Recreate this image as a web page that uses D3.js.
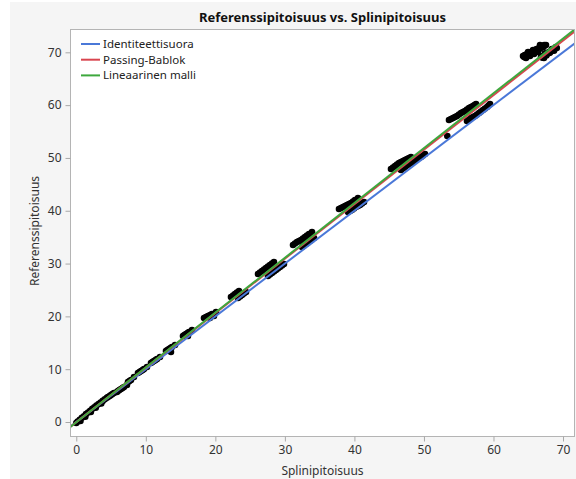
<!DOCTYPE html>
<html>
<head>
<meta charset="utf-8">
<script src="https://cdn.jsdelivr.net/npm/d3@7/dist/d3.min.js"></script>
<style>
  html, body { margin: 0; padding: 0; background: #ffffff; }
  svg { display: block; }
  text { font-family: "Noto Sans", "Open Sans", sans-serif; }
</style>
</head>
<body>
<svg id="chart" width="576" height="479"></svg>
<script>
// Measured concentrations: spline estimate (x) vs reference (y)
const splini = [
  0.0, 0.2, 0.5, 0.8, 1.1, 1.4, 1.7, 2.0, 2.3, 2.6, 2.9, 3.2, 3.5, 3.8, 4.1, 4.4, 0.6, 1.3, 2.1, 2.8, 3.6,
  4.56, 4.99, 5.42, 5.85, 4.80, 5.20,
  6.00, 6.43, 6.86, 7.29, 6.20, 6.65,
  7.44, 7.87, 8.30, 7.65,
  8.87, 9.31, 9.74, 10.17, 9.10, 9.55,
  10.74, 11.17, 11.61, 12.04, 10.95, 11.40,
  12.90, 13.33, 13.76, 14.20, 13.62, 13.10, 13.55,
  15.35, 15.78, 16.21, 16.64, 16.06, 15.55, 16.00,
  18.37, 18.94, 19.52, 20.09, 19.23, 19.80, 18.65, 19.25,
  22.25, 22.82, 23.40, 23.26, 23.83, 24.41, 22.55, 23.10, 23.55, 24.10,
  26.13, 26.71, 27.28, 27.86, 28.43, 27.57, 28.14, 28.72, 29.29, 29.87, 26.42, 27.00, 27.57, 28.15, 27.85, 28.43, 29.00, 29.58,
  31.17, 31.74, 32.32, 32.89, 33.47, 33.90, 32.46, 33.03, 33.61, 34.19, 31.45, 32.03, 32.60, 33.18, 32.75, 33.32, 33.90,
  37.78, 38.36, 38.93, 39.51, 40.08, 40.51, 39.08, 39.65, 40.23, 40.80, 41.38, 38.07, 38.65, 39.22, 39.80, 39.37, 39.94, 40.52, 41.09,
  45.26, 45.84, 46.41, 46.99, 47.56, 48.14, 46.70, 47.27, 47.85, 48.42, 49.00, 49.58, 50.15, 45.55, 46.12, 46.70, 47.27, 47.85, 46.98, 47.56, 48.13, 48.71, 49.29, 49.87,
  53.36,
  53.60, 54.18, 54.75, 55.33, 55.90, 56.48, 57.05, 57.49, 56.19, 56.77, 57.34, 57.92, 58.49, 59.07, 59.50,
  53.89, 54.46, 55.04, 55.61, 56.19, 56.76, 57.27, 56.48, 57.05, 57.63, 58.20, 58.78, 59.29,
  64.25, 64.82, 65.40, 65.97, 66.55, 67.12, 67.55, 64.68, 65.25, 65.83, 66.40, 64.97, 65.69, 66.69,
  64.50, 65.10, 65.60, 66.20, 66.80, 67.30, 64.40, 65.00, 65.50, 66.10, 66.70, 67.20,
  66.83, 67.40, 67.98, 68.55, 68.98, 67.26, 67.12, 67.69, 68.26, 68.77, 67.00, 67.60, 68.10, 68.70, 69.10, 67.40, 68.00, 68.40
];
const referenssi = [
  -0.2, 0.1, 0.4, 0.8, 1.1, 1.5, 1.8, 2.1, 2.5, 2.8, 3.1, 3.4, 3.7, 4.0, 4.3, 4.6, 0.2, 1.0, 1.9, 2.7, 3.5,
  4.73, 5.11, 5.49, 5.68, 4.92, 5.30,
  5.87, 6.25, 6.63, 7.01, 6.06, 6.44,
  7.57, 7.95, 8.52, 7.76,
  9.28, 9.66, 10.04, 10.41, 9.47, 9.85,
  11.17, 11.55, 11.93, 12.31, 11.36, 11.74,
  13.44, 13.82, 14.20, 14.58, 13.26, 13.63, 14.01,
  16.28, 16.66, 17.04, 17.42, 16.28, 16.47, 16.85,
  19.69, 20.07, 20.45, 20.83, 19.69, 20.07, 19.88, 20.26,
  23.67, 24.24, 24.81, 23.48, 24.05, 24.62, 23.95, 24.52, 23.76, 24.33,
  28.02, 28.59, 29.16, 29.73, 30.30, 27.65, 28.21, 28.78, 29.35, 29.92, 28.30, 28.87, 29.45, 30.02, 27.93, 28.50, 29.07, 29.64,
  33.52, 34.08, 34.46, 35.03, 35.60, 35.98, 33.14, 33.71, 34.27, 34.84, 33.80, 34.27, 34.75, 35.32, 33.43, 33.99, 34.56,
  40.33, 40.71, 41.09, 41.47, 42.04, 42.42, 39.77, 40.14, 40.71, 41.09, 41.66, 40.52, 40.90, 41.28, 41.76, 39.96, 40.43, 40.90, 41.38,
  47.91, 48.48, 49.04, 49.42, 49.80, 50.18, 47.72, 48.29, 48.86, 49.23, 49.80, 50.18, 50.75, 48.20, 48.76, 49.23, 49.61, 49.99, 48.01, 48.58, 49.05, 49.52, 49.99, 50.47,
  54.16,
  57.19, 57.57, 57.95, 58.51, 58.89, 59.46, 59.84, 60.22, 57.00, 57.57, 57.95, 58.51, 59.08, 59.65, 60.22,
  57.38, 57.76, 58.23, 58.70, 59.18, 59.65, 60.03, 57.29, 57.76, 58.23, 58.80, 59.37, 59.94,
  69.30, 69.68, 70.06, 70.44, 70.82, 71.20, 71.39, 68.93, 69.30, 69.68, 70.06, 70.06, 70.44, 71.39,
  69.50, 69.90, 70.20, 70.60, 71.00, 71.40, 69.10, 69.50, 69.90, 70.30, 70.70, 71.00,
  69.12, 69.49, 69.87, 70.44, 71.01, 68.93, 69.31, 69.68, 70.16, 70.73, 69.00, 69.40, 69.90, 70.30, 70.80, 69.80, 70.10, 70.60
];

// Fitted lines: [intercept, slope]
const lineNames = ["Identiteettisuora", "Passing-Bablok", "Lineaarinen malli"];
const lineIntercepts = [0, -0.03, -0.05];
const lineSlopes = [1, 1.032, 1.038];
const lineColors = ["#4a78d8", "#d9454f", "#3da83d"];

const xTicks = [0, 10, 20, 30, 40, 50, 60, 70];
const yTicks = [0, 10, 20, 30, 40, 50, 60, 70];

const titleText = "Referenssipitoisuus vs. Splinipitoisuus";
const xTitle = "Splinipitoisuus";
const yTitle = "Referenssipitoisuus";

const svg = d3.select("#chart");
const plot = { left: 70.5, right: 574.5, top: 29.5, bottom: 436.5 };

const xDomain = [-0.83, 71.65];
const yDomain = [-2.84, 74.36];
const x = d3.scaleLinear().domain(xDomain).range([plot.left, plot.right]);
const y = d3.scaleLinear().domain(yDomain).range([plot.bottom + 0.5, plot.top - 0.2]);

// page background
svg.append("rect").attr("x", 10).attr("y", 2).attr("width", 566).attr("height", 477).attr("fill", "#f5f5f5");

// plot area
svg.append("rect")
  .attr("x", plot.left).attr("y", plot.top)
  .attr("width", plot.right - plot.left).attr("height", plot.bottom - plot.top)
  .attr("fill", "#ffffff");

svg.append("defs").append("clipPath").attr("id", "plotClip")
  .append("rect")
  .attr("x", plot.left + 0.5).attr("y", plot.top + 0.5)
  .attr("width", plot.right - plot.left - 1).attr("height", plot.bottom - plot.top - 1);

const inner = svg.append("g").attr("clip-path", "url(#plotClip)");

// points
inner.append("g").selectAll("circle")
  .data(d3.range(splini.length))
  .join("circle")
  .attr("cx", i => x(splini[i]))
  .attr("cy", i => y(referenssi[i]))
  .attr("r", 3.3)
  .attr("fill", "#000000");

// reference and fitted lines
lineNames.forEach((name, k) => {
  const f = v => lineIntercepts[k] + lineSlopes[k] * v;
  inner.append("line")
    .attr("x1", x(xDomain[0])).attr("y1", y(f(xDomain[0])))
    .attr("x2", x(xDomain[1])).attr("y2", y(f(xDomain[1])))
    .attr("stroke", lineColors[k])
    .attr("stroke-width", 2);
});

// frame
svg.append("rect")
  .attr("x", plot.left).attr("y", plot.top)
  .attr("width", plot.right - plot.left).attr("height", plot.bottom - plot.top)
  .attr("fill", "none").attr("stroke", "#b4b4b4").attr("stroke-width", 1);

// axes
const xAxis = svg.append("g")
  .attr("transform", `translate(0,${plot.bottom})`)
  .call(d3.axisBottom(x).tickValues(xTicks).tickSize(5).tickPadding(4));
const yAxis = svg.append("g")
  .attr("transform", `translate(${plot.left},0)`)
  .call(d3.axisLeft(y).tickValues(yTicks).tickSize(5).tickPadding(4));

[xAxis, yAxis].forEach(g => {
  g.select(".domain").remove();
  g.selectAll(".tick line").attr("stroke", "#a8a8a8");
  g.selectAll(".tick text")
    .attr("fill", "#333333")
    .style("font-family", "'Noto Sans', sans-serif")
    .style("font-size", "12px");
});

// title and axis titles
svg.append("text")
  .attr("x", (plot.left + plot.right) / 2).attr("y", 22)
  .attr("text-anchor", "middle")
  .style("font-size", "13px").style("font-weight", "bold")
  .attr("fill", "#111111")
  .text(titleText);

svg.append("text")
  .attr("x", (plot.left + plot.right) / 2).attr("y", 475)
  .attr("text-anchor", "middle")
  .style("font-size", "12px")
  .attr("fill", "#333333")
  .text(xTitle);

svg.append("text")
  .attr("transform", `translate(39,${(plot.top + plot.bottom) / 2 - 2}) rotate(-90)`)
  .attr("text-anchor", "middle")
  .style("font-size", "12px")
  .attr("fill", "#333333")
  .text(yTitle);

// legend
const legend = svg.append("g");
lineNames.forEach((name, k) => {
  const ly = 44 + k * 15.7;
  legend.append("line")
    .attr("x1", 81).attr("x2", 100).attr("y1", ly).attr("y2", ly)
    .attr("stroke", lineColors[k]).attr("stroke-width", 2);
  legend.append("text")
    .attr("x", 103).attr("y", ly + 4)
    .style("font-size", "11.5px")
    .attr("fill", "#222222")
    .text(name);
});
</script>
</body>
</html>
